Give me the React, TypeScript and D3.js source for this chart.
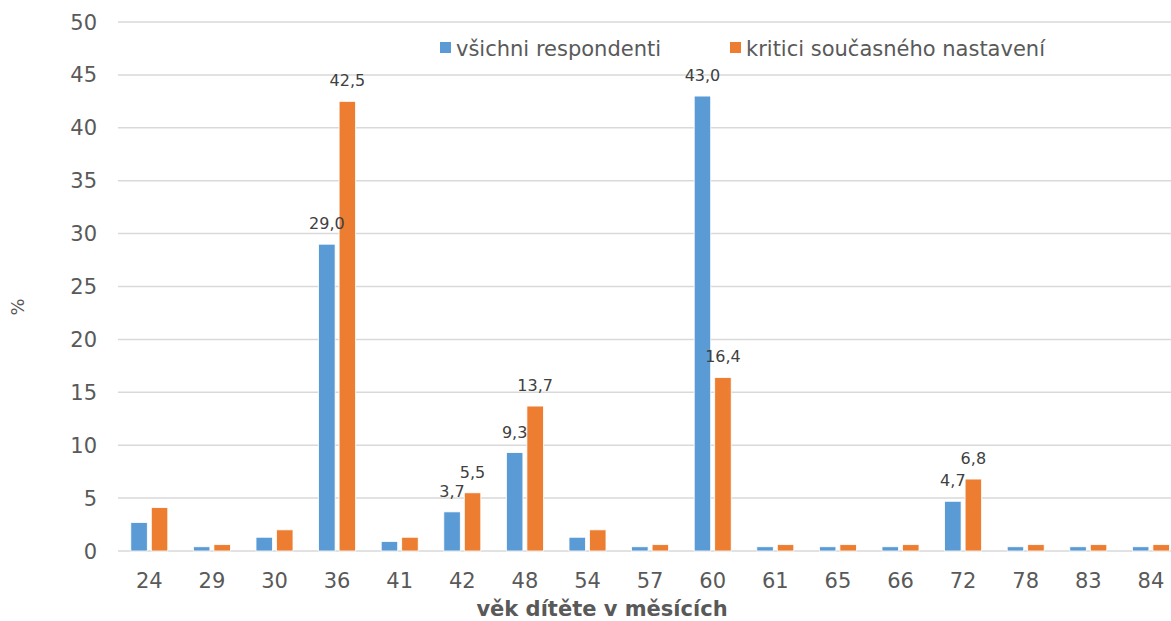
import React from "react";
import * as d3 from "d3";

const categories = ["24","29","30","36","41","42","48","54","57","60","61","65","66","72","78","83","84"];
const allRespondents = [2.7,0.4,1.3,29.0,0.9,3.7,9.3,1.3,0.4,43.0,0.4,0.4,0.4,4.7,0.4,0.4,0.4];
const critics = [4.1,0.6,2.0,42.5,1.3,5.5,13.7,2.0,0.6,16.4,0.6,0.6,0.6,6.8,0.6,0.6,0.6];
const labeledCategories = ["36","42","48","60","72"];
const seriesNames = ["všichni respondenti", "kritici současného nastavení"];
const seriesColors = ["#5B9BD5", "#ED7D31"];
const yTicks = [0,5,10,15,20,25,30,35,40,45,50];

const W = 1171, H = 621;
const FONT = "'DejaVu Sans', Verdana, sans-serif";
const TXT = "#595959";

export default function App() {
  const band = 62.6;
  const x0 = 118;
  const x = d3.scaleBand<string>().domain(categories).range([x0, x0 + band * categories.length]).padding(0);
  const x1 = d3.scaleBand<string>().domain(["0","1"]).range([-18.5, 18.5]).paddingInner(4 / 20.5);
  const y = d3.scaleLinear().domain([0, 50]).range([551, 22]);
  const series = [allRespondents, critics];
  const fmt = (v: number) => v.toFixed(1).replace(".", ",");

  return (
    <svg width={W} height={H} style={{ position: "fixed", left: 0, top: 0, background: "#fff" }} fontFamily={FONT}>
      {yTicks.map(t => (
        <g key={t}>
          <line x1={x0} x2={W} y1={y(t)} y2={y(t)} stroke="#d9d9d9" strokeWidth={1.5} />
          <text x={97} y={y(t)} dy="0.36em" textAnchor="end" fontSize={21} fill={TXT}>{t}</text>
        </g>
      ))}
      {series.map((vals, si) => (
        <g key={si}>
          {vals.map((v, i) => {
            const c = categories[i];
            const cx = (x(c) as number) + x.bandwidth() / 2;
            const bx = cx + (x1(String(si)) as number);
            return (
              <rect key={c} x={bx} y={y(v)} width={x1.bandwidth()} height={y(0) - y(v)}
                fill={seriesColors[si]} stroke="#ffffff" strokeWidth={0.8} />
            );
          })}
        </g>
      ))}
      {series.map((vals, si) => (
        <g key={"l" + si}>
          {vals.map((v, i) => {
            const c = categories[i];
            if (!labeledCategories.includes(c)) return null;
            const cx = (x(c) as number) + x.bandwidth() / 2 + (x1(String(si)) as number) + x1.bandwidth() / 2;
            return (
              <text key={c} x={cx} y={y(v) - 15} textAnchor="middle" fontSize={16} fill="#404040">{fmt(v)}</text>
            );
          })}
        </g>
      ))}
      {categories.map(c => (
        <text key={c} x={(x(c) as number) + x.bandwidth() / 2} y={580} dy="0.36em" textAnchor="middle" fontSize={21} fill={TXT}>{c}</text>
      ))}
      <text x={602} y={616} textAnchor="middle" fontSize={21} fontWeight="bold" fill={TXT}>věk dítěte v měsících</text>
      <text transform="translate(18,307) rotate(-90)" textAnchor="middle" dy="0.36em" fontSize={18} fill={TXT}>%</text>
      {seriesNames.map((n, i) => {
        const lx = [440, 730][i];
        return (
          <g key={n}>
            <rect x={lx} y={42} width={11} height={11} fill={seriesColors[i]} />
            <text x={lx + 16} y={48} dy="0.36em" fontSize={21} fill={TXT}>{n}</text>
          </g>
        );
      })}
    </svg>
  );
}
